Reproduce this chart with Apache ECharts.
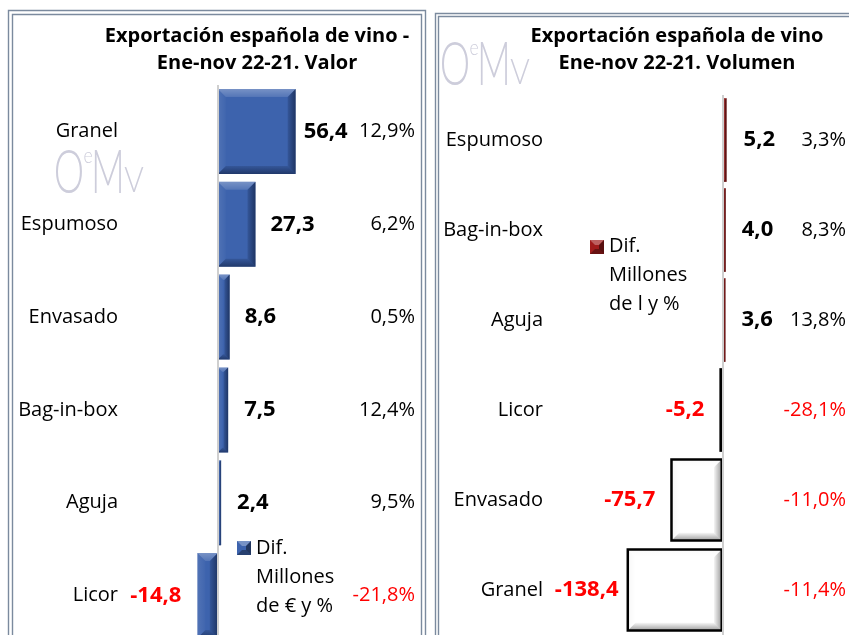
<!DOCTYPE html>
<html><head><meta charset="utf-8">
<script src="https://cdn.jsdelivr.net/npm/echarts@6/dist/echarts.min.js"></script>
<style>html,body{margin:0;padding:0;background:#fff}#c{width:849px;height:635px}</style>
</head><body><div id="c"></div>
<script>
// ---- data ----
const valorCategories = ['Granel', 'Espumoso', 'Envasado', 'Bag-in-box', 'Aguja', 'Licor'];
const valorValues = [56.4, 27.3, 8.6, 7.5, 2.4, -14.8];
const valorPercents = [12.9, 6.2, 0.5, 12.4, 9.5, -21.8];
const volumenCategories = ['Espumoso', 'Bag-in-box', 'Aguja', 'Licor', 'Envasado', 'Granel'];
const volumenValues = [5.2, 4.0, 3.6, -5.2, -75.7, -138.4];
const volumenPercents = [3.3, 8.3, 13.8, -28.1, -11.0, -11.4];
const valorTitle = 'Exportación española de vino -\nEne-nov 22-21. Valor';
const volumenTitle = 'Exportación española de vino\nEne-nov 22-21. Volumen';
const valorLegend = 'Dif.\nMillones\nde € y %';
const volumenLegend = 'Dif.\nMillones\nde l y %';

// ---- styles ----
const FONT = "'Open Sans', 'Noto Sans', sans-serif";
const RED = '#ff0000';
const BLUE = '#3d63ad';
const DARKRED = '#8a1c1c';
const fmt = v => v.toFixed(1).replace('.', ',');
const grad = (x2, y2, c0, c1) => ({type: 'linear', x: 0, y: 0, x2, y2, colorStops: [{offset: 0, color: c0}, {offset: 1, color: c1}]});

const bluePal = {
  size: 8, inset: 0,
  top: grad(0, 1, 'rgba(255,255,255,0.30)', 'rgba(255,255,255,0.12)'),
  left: grad(1, 0, 'rgba(255,255,255,0.10)', 'rgba(255,255,255,0.02)'),
  right: grad(1, 0, 'rgba(5,15,40,0.15)', 'rgba(5,15,40,0.55)'),
  bottom: grad(0, 1, 'rgba(5,15,40,0.15)', 'rgba(5,15,40,0.50)')
};
const whitePal = {
  size: 8, inset: 1,
  top: grad(0, 1, 'rgba(0,0,0,0.02)', 'rgba(0,0,0,0.0)'),
  left: grad(1, 0, 'rgba(0,0,0,0.03)', 'rgba(0,0,0,0.0)'),
  right: grad(1, 0, 'rgba(0,0,0,0.04)', 'rgba(0,0,0,0.40)'),
  bottom: grad(0, 1, 'rgba(0,0,0,0.04)', 'rgba(0,0,0,0.40)')
};
const redPal = {
  size: 2, inset: 0,
  top: 'rgba(255,255,255,0.1)', left: 'rgba(255,255,255,0.15)',
  right: 'rgba(0,0,0,0.3)', bottom: 'rgba(0,0,0,0.3)'
};

function makeBevel(gap, palFor) {
  return function (params, api) {
    const v = api.value(0), i = api.value(1);
    const pal = palFor(v);
    const a = api.coord([0, i]), c = api.coord([v, i]);
    const band = api.size([0, 1])[1];
    const h = band * (1 - gap);
    const x0 = Math.min(a[0], c[0]) + pal.inset, x1 = Math.max(a[0], c[0]) - pal.inset;
    const y0 = a[1] - h / 2 + pal.inset, y1 = a[1] + h / 2 - pal.inset;
    const w = x1 - x0;
    if (w <= 0.5) return null;
    const b = Math.min(pal.size, w * 0.45, (y1 - y0) * 0.45);
    const poly = (pts, fill) => ({type: 'polygon', shape: {points: pts}, style: {fill: fill}, silent: true});
    return {type: 'group', children: [
      poly([[x0, y0], [x1, y0], [x1 - b, y0 + b], [x0 + b, y0 + b]], pal.top),
      poly([[x0, y0], [x0 + b, y0 + b], [x0 + b, y1 - b], [x0, y1]], pal.left),
      poly([[x1, y0], [x1, y1], [x1 - b, y1 - b], [x1 - b, y0 + b]], pal.right),
      poly([[x0, y1], [x1, y1], [x1 - b, y1 - b], [x0 + b, y1 - b]], pal.bottom)
    ]};
  };
}

function barData(values, styleFor, dists) {
  return values.map((v, i) => ({
    value: v,
    itemStyle: styleFor(v),
    label: {position: v >= 0 ? 'right' : 'left', distance: dists[i], color: v >= 0 ? '#000' : RED}
  }));
}
const pctStrings = p => p.map(v => fmt(v) + '%');
const pctLabel = margin => ({
  margin: margin, fontSize: 20, fontFamily: FONT,
  formatter: s => (s.charAt(0) === '-' ? '{n|' : '{p|') + s + '}',
  rich: {
    p: {width: 80, align: 'right', color: '#000', fontSize: 20, fontFamily: FONT},
    n: {width: 80, align: 'right', color: RED, fontSize: 20, fontFamily: FONT}
  }
});
const zeroLine = () => ({
  silent: true, symbol: 'none', animation: false,
  label: {show: false},
  lineStyle: {color: '#cfcfcf', width: 2, type: 'solid'},
  data: [{xAxis: 0}]
});
const valueLabel = {
  show: true, formatter: p => fmt(p.value),
  fontFamily: FONT, fontSize: 22, fontWeight: 'bold'
};

const GAP_L = 0.084, GAP_R = 0.07;

function legendIcon(x, y, fill) {
  const s = 14, b = 5;
  return {type: 'group', x, y, silent: true, children: [
    {type: 'rect', shape: {x: 0, y: 0, width: s, height: s}, style: {fill}},
    {type: 'polygon', shape: {points: [[0, 0], [s, 0], [s - b, b], [b, b]]}, style: {fill: 'rgba(255,255,255,0.3)'}},
    {type: 'polygon', shape: {points: [[s, 0], [s, s], [s - b, s - b], [s - b, b]]}, style: {fill: 'rgba(0,0,0,0.45)'}},
    {type: 'polygon', shape: {points: [[0, s], [s, s], [s - b, s - b], [b, s - b]]}, style: {fill: 'rgba(0,0,0,0.35)'}}
  ]};
}
function logo(x, y) {
  const col = '#cdcddb';
  const t = (txt, dx, dy, size, sx) => ({type: 'text', x: x + dx, y: y + dy, scaleX: sx, silent: true,
    style: {text: txt, fill: col, font: '300 ' + size + "px 'Lato', 'Open Sans', sans-serif", textAlign: 'center', textVerticalAlign: 'middle'}});
  return {type: 'group', children: [
    t('O', 15, 23, 62, 0.62),
    t('e', 34, 6, 22, 0.8),
    t('M', 54, 23, 62, 0.6),
    t('V', 80, 31, 35, 0.85)
  ]};
}
function border(x0, y0, x1, y1) {
  return {type: 'polyline', silent: true, shape: {points: [[x0, y1], [x0, y0], [x1, y0], [x1, y1]]},
    style: {stroke: '#7b8a9e', lineWidth: 1.4, fill: null}};
}

const chart = echarts.init(document.getElementById('c'));
chart.setOption({
  animation: false,
  backgroundColor: '#fff',
  textStyle: {fontFamily: FONT},
  grid: [
    {left: 135, top: 85, width: 165.6, height: 557, outerBoundsMode: 'none', containLabel: false},
    {left: 583.6, top: 95, width: 209.1, height: 540, outerBoundsMode: 'none', containLabel: false}
  ],
  xAxis: [
    {type: 'value', gridIndex: 0, min: -60, max: 60, show: false},
    {type: 'value', gridIndex: 1, min: -200, max: 100, show: false}
  ],
  yAxis: [
    {type: 'category', gridIndex: 0, inverse: true, data: valorCategories, position: 'left',
      axisLine: {show: false, onZero: false}, axisTick: {show: false},
      axisLabel: {margin: 17, color: '#000', fontSize: 20, fontFamily: FONT}},
    {type: 'category', gridIndex: 0, inverse: true, data: pctStrings(valorPercents), position: 'right',
      axisLine: {show: false, onZero: false}, axisTick: {show: false},
      axisLabel: pctLabel(415 - 80 - 300.6)},
    {type: 'category', gridIndex: 1, inverse: true, data: volumenCategories, position: 'left',
      axisLine: {show: false, onZero: false}, axisTick: {show: false},
      axisLabel: {margin: 40.6, color: '#000', fontSize: 20, fontFamily: FONT}},
    {type: 'category', gridIndex: 1, inverse: true, data: pctStrings(volumenPercents), position: 'right',
      axisLine: {show: false, onZero: false}, axisTick: {show: false},
      axisLabel: pctLabel(846 - 80 - 792.7)}
  ],
  series: [
    {type: 'bar', xAxisIndex: 0, yAxisIndex: 0, barCategoryGap: (GAP_L * 100) + '%',
      data: barData(valorValues, () => ({color: BLUE}), [8, 15, 15, 16, 16, 16]),
      label: valueLabel, markLine: zeroLine(), z: 2},
    {type: 'custom', xAxisIndex: 0, yAxisIndex: 0, z: 3, silent: true,
      renderItem: makeBevel(GAP_L, () => bluePal),
      data: valorValues.map((v, i) => [v, i]), encode: {x: 0, y: 1}},
    {type: 'bar', xAxisIndex: 1, yAxisIndex: 2, barCategoryGap: (GAP_R * 100) + '%',
      data: barData(volumenValues, v => v >= 0 ? {color: DARKRED} : {color: '#fff', borderColor: '#000', borderWidth: 2.5}, [17, 16, 16, 15, 15, 8]),
      label: valueLabel, markLine: zeroLine(), z: 2},
    {type: 'custom', xAxisIndex: 1, yAxisIndex: 2, z: 3, silent: true,
      renderItem: makeBevel(GAP_R, v => v >= 0 ? redPal : whitePal),
      data: volumenValues.map((v, i) => [v, i]), encode: {x: 0, y: 1}}
  ],
  graphic: [
    border(8.5, 10.5, 425.5, 700),
    border(12.5, 14.5, 421.5, 700),
    border(435.5, 13.5, 900, 700),
    border(438.5, 16.5, 900, 700),
    logo(54, 150),
    logo(440, 42),
    {type: 'text', x: 257, y: 23, silent: true,
      style: {text: valorTitle, fill: '#000', font: "bold 20px " + FONT, textAlign: 'center', textVerticalAlign: 'top', lineHeight: 27}},
    {type: 'text', x: 677, y: 23, silent: true,
      style: {text: volumenTitle, fill: '#000', font: "bold 20px " + FONT, textAlign: 'center', textVerticalAlign: 'top', lineHeight: 27}},
    legendIcon(237, 541, BLUE),
    {type: 'text', x: 256, y: 533.5, silent: true,
      style: {text: valorLegend, fill: '#000', font: "20px " + FONT, textAlign: 'left', textVerticalAlign: 'top', lineHeight: 29}},
    legendIcon(590, 240, '#a01c1c'),
    {type: 'text', x: 609, y: 231.5, silent: true,
      style: {text: volumenLegend, fill: '#000', font: "20px " + FONT, textAlign: 'left', textVerticalAlign: 'top', lineHeight: 29}}
  ]
});
</script></body></html>
